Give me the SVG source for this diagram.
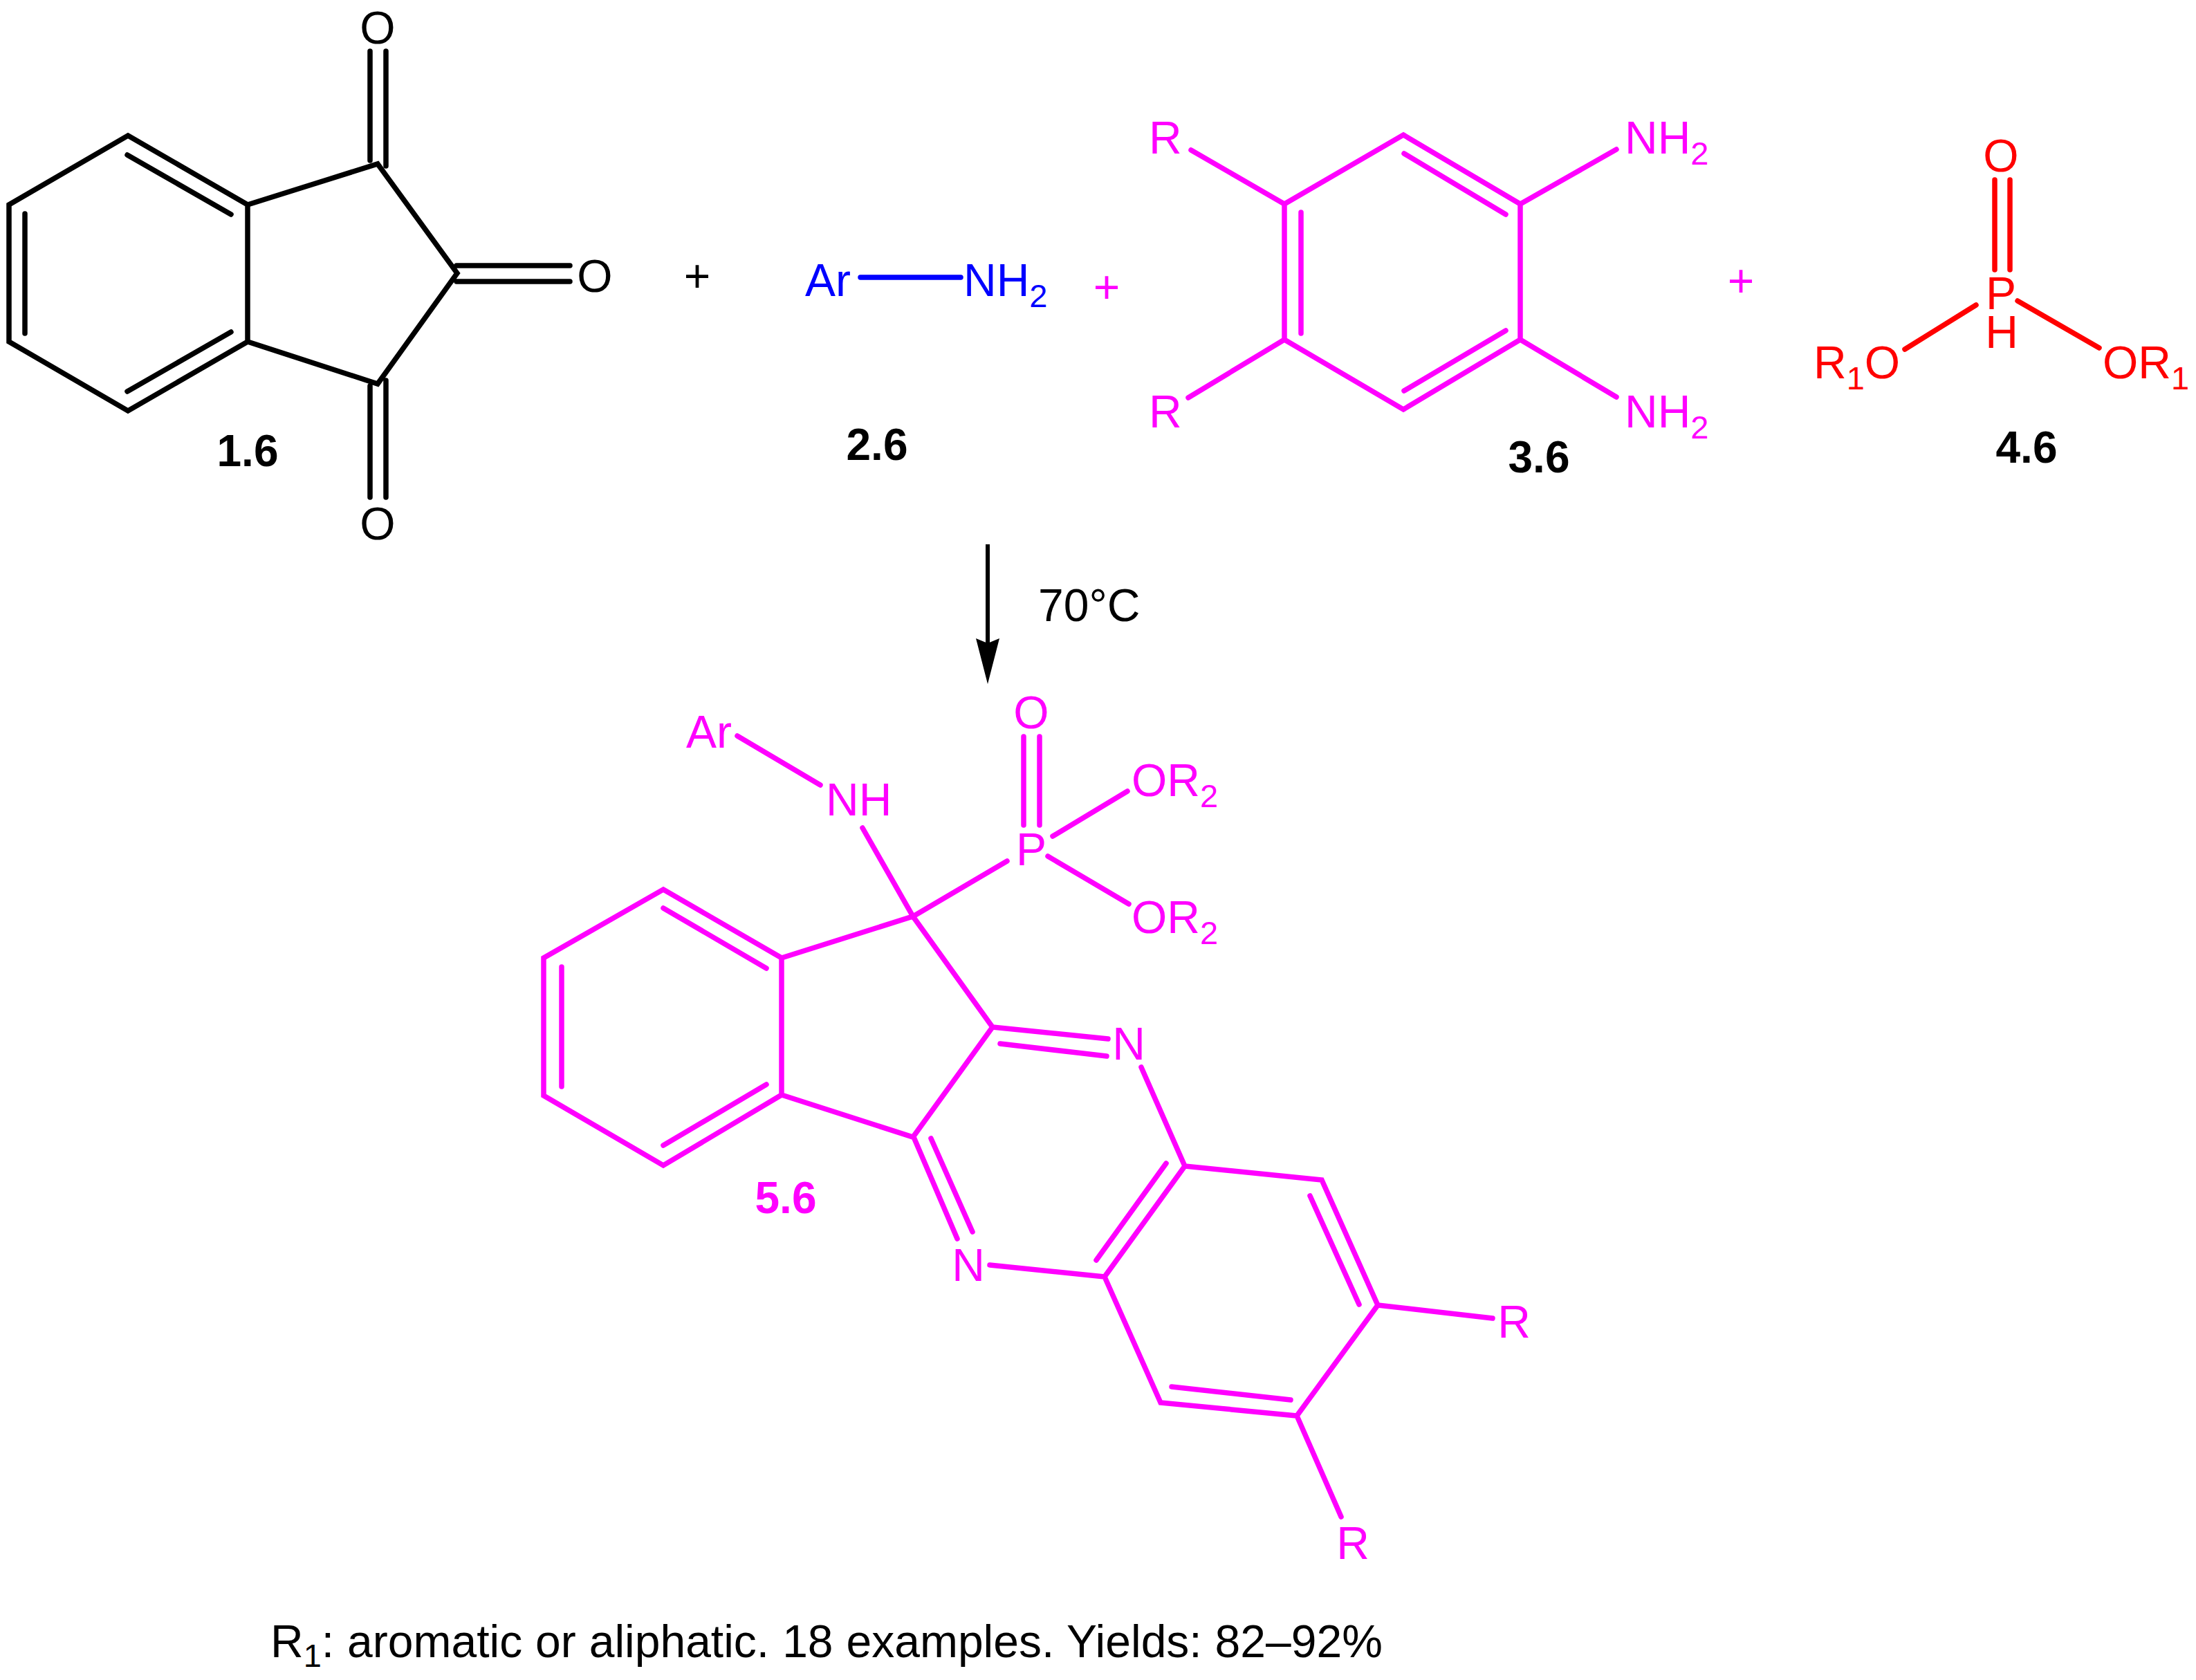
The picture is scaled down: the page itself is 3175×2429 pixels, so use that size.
<svg xmlns="http://www.w3.org/2000/svg" width="3175" height="2429" viewBox="0 0 3175 2429">
<style>
text{font-family:"Liberation Sans",Arial,sans-serif;font-size:66px}
.b{font-weight:bold;font-size:64px;text-anchor:middle}
.m{text-anchor:middle}
.s{font-size:47px}
.k{fill:#000}.p{fill:#f0f}.r{fill:#f00}.u{fill:#00f}
.lk,.lp,.lr,.lu{fill:none;stroke-width:7.5;stroke-linecap:round;stroke-linejoin:miter}
.lk{stroke:#000}.lp{stroke:#f0f}.lr{stroke:#f00}.lu{stroke:#00f}
</style>
<rect width="3175" height="2429" fill="#fff"/>
<g id="connectors">
<g id="bonds-1-6" class="lk">
<path d="M185 196L358 296V494L185 594L13 494V296ZM184 224L334 310M36 309V482M184 566L334 480M358 296L546 237L661 395L546 555L358 494M535 74V232M558 74V240M535 558V719M558 550V719M660 384H824M660 407H824"/>
</g>
<g id="bonds-2-6" class="lu"><path d="M1244 401H1389"/></g>
<g id="bonds-3-6" class="lp">
<path d="M2029 195L2198 295V491L2029 592L1857 491V295ZM2030 222L2177 310M1881 307V482M2030 565L2177 478M1722 217L1857 295M1718 575L1857 491M2337 216L2198 295M2337 574L2198 491"/>
</g>
<g id="bonds-4-6" class="lr">
<path d="M2884 260V390M2906 260V390M2754 505L2857 441M2917 435L3035 503"/>
</g>
<g id="arrow">
<path d="M1428 787V930" fill="none" stroke="#000" stroke-width="6"/>
<path d="M1428 989L1411 923L1428 930L1445 923Z" fill="#000"/>
</g>
<g id="bonds-5-6" class="lp">
<path d="M959 1286L1130 1385V1583L959 1685L786 1584V1385ZM959 1313L1108 1400M812 1398V1571M959 1656L1108 1568M1130 1385L1320 1325L1435 1485L1320 1644L1130 1583M1435 1485L1602 1502M1446 1509L1600 1527M1650 1543L1713 1686L1911 1706L1992 1887L1875 2047L1678 2028L1597 1846L1713 1686M1321 1644L1384 1791M1346 1646L1406 1781M1431 1829L1597 1846M1686 1682L1585 1822M1894 1729L1965 1886M1694 2005L1866 2024M1992 1887L2158 1906M1875 2047L1939 2193M1066 1064L1186 1135M1247 1197L1320 1325L1456 1245M1522 1209L1630 1144M1515 1238L1632 1307M1480 1065V1193M1503 1065V1193"/>
</g>
</g>
<g id="node-1-6">
<text class="m k" x="546" y="63">O</text>
<text class="m k" x="860" y="422">O</text>
<text class="m k" x="546" y="780">O</text>
<text class="b k" x="358" y="674">1.6</text>
</g>
<text id="plus-1" class="m k" x="1008" y="422">+</text>
<g id="node-2-6">
<text class="u" x="1164" y="428">Ar</text>
<text class="u" x="1393" y="428">NH<tspan class="s" dy="16">2</tspan></text>
<text class="b k" x="1268" y="665">2.6</text>
</g>
<text id="plus-2" class="m p" x="1600" y="438">+</text>
<g id="node-3-6">
<text class="p" x="1661" y="222">R</text>
<text class="p" x="1661" y="618">R</text>
<text class="p" x="2349" y="222">NH<tspan class="s" dy="16">2</tspan></text>
<text class="p" x="2349" y="618">NH<tspan class="s" dy="16">2</tspan></text>
<text class="b k" x="2225" y="683">3.6</text>
</g>
<text id="plus-3" class="m p" x="2517" y="429">+</text>
<g id="node-4-6">
<text class="m r" x="2893" y="248">O</text>
<text class="m r" x="2893" y="447">P</text>
<text class="m r" x="2894" y="503">H</text>
<text class="r" x="2622" y="547">R<tspan class="s" dy="16">1</tspan><tspan dy="-16">O</tspan></text>
<text class="r" x="3040" y="547">OR<tspan class="s" dy="16">1</tspan></text>
<text class="b k" x="2930" y="669">4.6</text>
</g>
<text id="condition" class="k" x="1501" y="898">70°C</text>
<g id="node-5-6">
<text class="p" x="992" y="1081">Ar</text>
<text class="p" x="1194" y="1179">NH</text>
<text class="m p" x="1491" y="1053">O</text>
<text class="m p" x="1491" y="1251">P</text>
<text class="p" x="1636" y="1151">OR<tspan class="s" dy="16">2</tspan></text>
<text class="p" x="1636" y="1349">OR<tspan class="s" dy="16">2</tspan></text>
<text class="m p" x="1632" y="1532">N</text>
<text class="m p" x="1400" y="1852">N</text>
<text class="m p" x="2189" y="1934">R</text>
<text class="m p" x="1956" y="2254">R</text>
<text class="b p" x="1136" y="1754">5.6</text>
</g>
<text id="footnote" class="k" x="391" y="2396" style="word-spacing:.6px">R<tspan class="s" dy="14">1</tspan><tspan dy="-14">: aromatic or aliphatic. 18 examples. Yields: 82–92%</tspan></text>
</svg>
